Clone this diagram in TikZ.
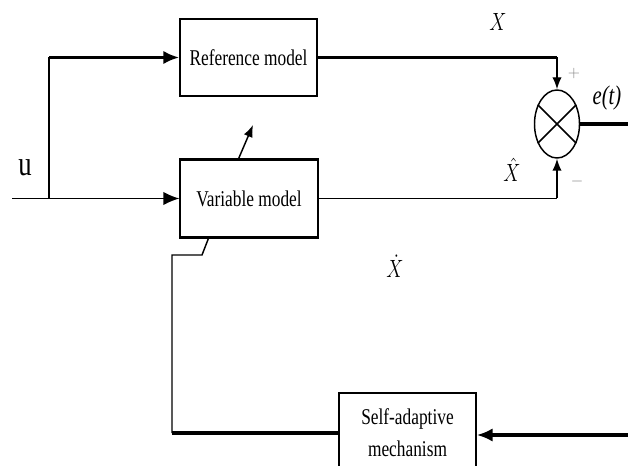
\documentclass[tikz,border=0pt]{standalone}
\usepackage{fontspec}
\usepackage{graphicx}
\setmainfont{Liberation Serif}
\usetikzlibrary{arrows.meta,shapes.geometric}
\newcommand{\tallt}[1]{\scalebox{1}[1.3]{#1}}
\tikzset{
  block/.style={draw, line width=0.9pt, align=center, font=\fontsize{13}{24}\selectfont},
  thinline/.style={line width=1.1pt},
  thickline/.style={line width=2.8pt},
  arr/.style={-{Latex[length=12pt,width=10pt]}},
  sarr/.style={-{Latex[length=9pt,width=7pt]}},
  lbl/.style={font=\fontsize{15.5}{17}\selectfont}
}
\begin{document}
\begin{tikzpicture}[x=0.75pt,y=-0.75pt]
    \clip (0,0) rectangle (628,466);
    \node[block, minimum width=137*0.75pt, minimum height=77*0.75pt] (ref) at (248.5,57.5) {\tallt{Reference model}};
    \node[block, minimum width=138*0.75pt, minimum height=77*0.75pt] (var) at (249,198.5) {\tallt{Variable model}};
    \node[block, minimum width=137*0.75pt, minimum height=80*0.75pt] (sam) at (407.5,433) {\tallt{Self-adaptive}\\\tallt{mechanism}};
    \node[draw, thinline, ellipse, minimum width=45*0.75pt, minimum height=68*0.75pt, inner sep=0pt] (sum) at (557,124) {};
    \draw[thinline] (sum.45) -- (sum.225) (sum.135) -- (sum.-45);
    \draw[thickline] (var.north west) -- (var.north east);
    \draw[thickline] (var.south west) -- (var.south east);

    \coordinate (in) at (12,198.5);
    \coordinate (br) at (49,198.5);
    \coordinate (bt) at (49,57.5);
    \coordinate (rc) at (557,57.5);
    \coordinate (vc) at (557,198.5);
    \coordinate (out) at (628,124);
    \coordinate (fb) at (628,435);
    \coordinate (adj1) at (238,160);
    \coordinate (adj2) at (253,125);
    \coordinate (s1) at (209,237);
    \coordinate (s2) at (202,255);
    \coordinate (s3) at (172,255);
    \coordinate (s4) at (172,433);

    \draw[thinline, arr] (in) -- (var.west);
    \draw[thinline] (br) -- (bt);
    \draw[thickline, arr] (bt) -- (ref.west);
    \draw[thickline] (ref.east) -- (rc);
    \draw[thinline, sarr] (rc) -- (sum.north);
    \draw[thinline] (var.east) -- (vc);
    \draw[thinline, sarr] (vc) -- (sum.south);
    \draw[thickline] (sum.east) -- (out);
    \draw[thinline, sarr] (adj1) -- (adj2);
    \draw[thinline] (s1) -- (s2) -- (s3) -- (s4);
    \draw[thickline] (s4) -- (sam.west |- s4);
    \draw[thickline, arr] (fb) -- (sam.east |- fb);

    \node[font=\fontsize{20}{22}\selectfont] (u) at (25,168) {\tallt{u}};
    \node[lbl] (x) at (498,22) {\tallt{$X$}};
    \node[lbl] (xh) at (512,170) {\tallt{$\hat{X}$}};
    \node[lbl] (xd) at (395,266) {\tallt{$\dot{X}$}};
    \node[lbl] (e) at (607,98) {\tallt{\textit{e(t)}}};
    \node[gray, font=\fontsize{13}{14}\selectfont] (plus) at (574,74) {$+$};
    \node[gray, font=\fontsize{13}{14}\selectfont] (minus) at (577,182) {$-$};
\end{tikzpicture}
\end{document}
